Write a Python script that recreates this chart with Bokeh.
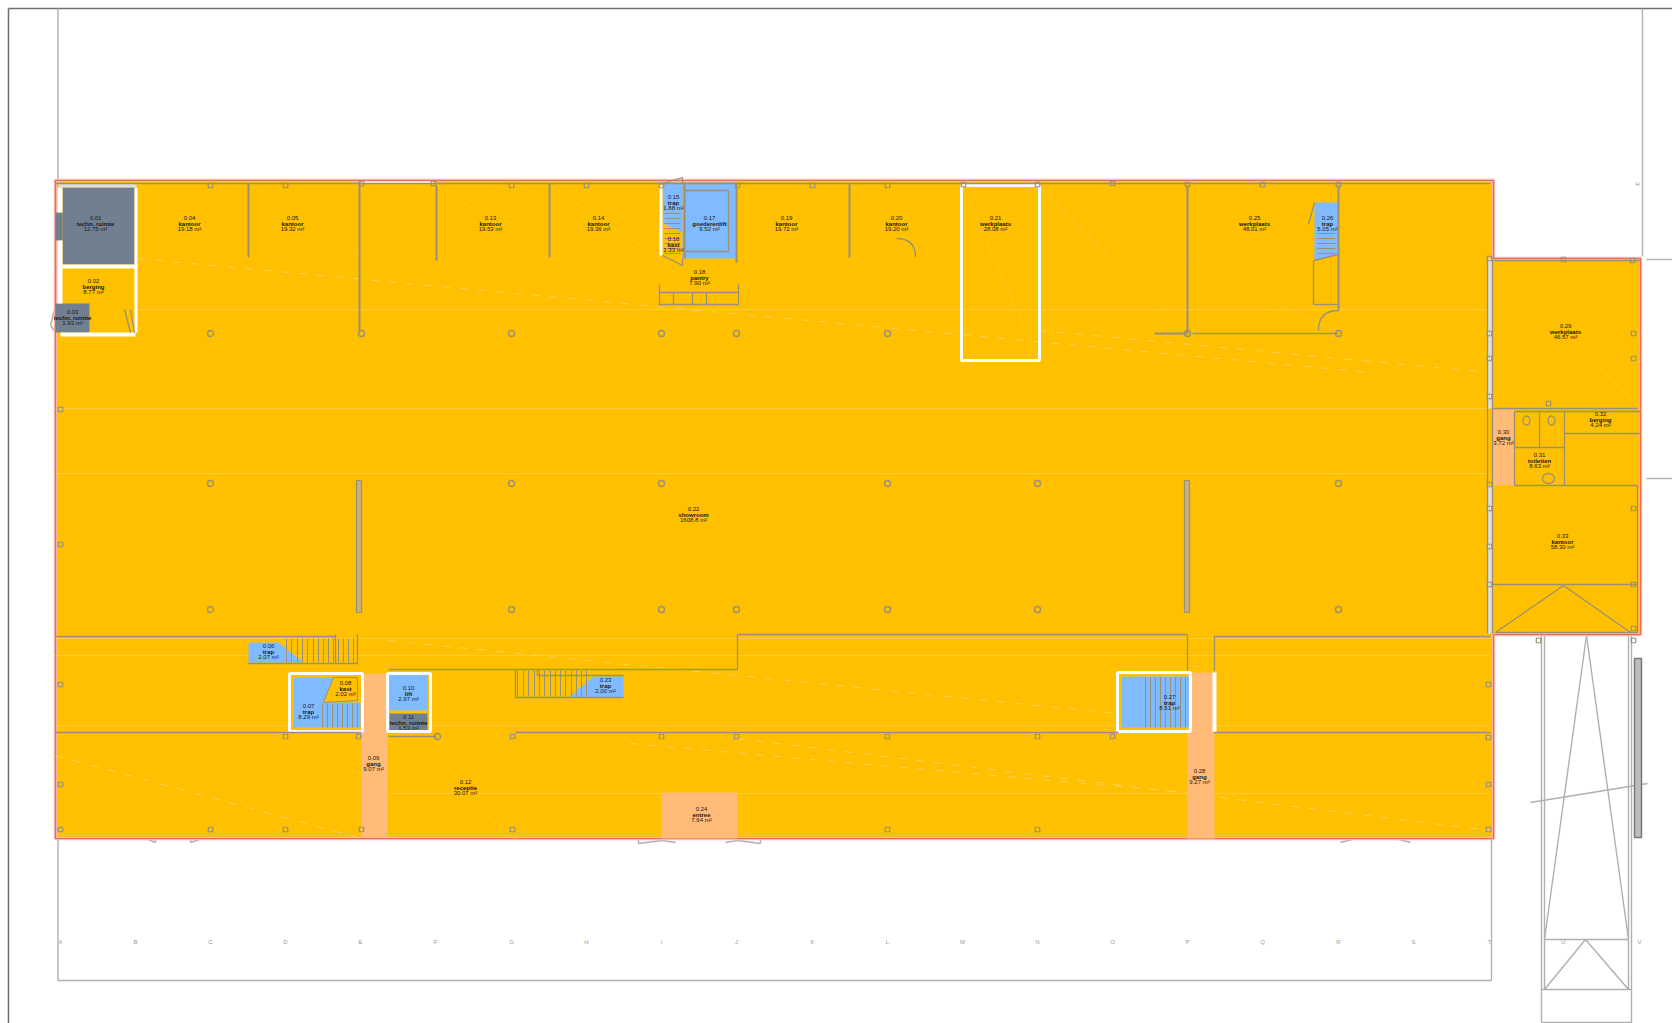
from bokeh.plotting import figure
from bokeh.models import Range1d, ColumnDataSource
from bokeh.core.properties import value
from bokeh.embed import file_html
from bokeh.resources import INLINE

# ---- room schedule (label data) ----
room_ids = ["0.01","0.02","0.03","0.04","0.05","0.06","0.07","0.08","0.09","0.10","0.11","0.12",
            "0.13","0.14","0.15","0.16","0.17","0.18","0.19","0.20","0.21","0.22","0.23","0.24",
            "0.25","0.26","0.27","0.28","0.29","0.30","0.31","0.32","0.33"]
room_names = ["techn. ruimte","berging","techn. ruimte","kantoor","kantoor","trap","trap","kast","gang","lift",
              "techn. ruimte","receptie","kantoor","kantoor","trap","kast","goederenlift","pantry","kantoor",
              "kantoor","werkplaats","showroom","trap","entree","werkplaats","trap","trap","gang","werkplaats",
              "gang","toiletten","berging","kantoor"]
room_areas = ["12.75 m²","8.77 m²","1.93 m²","19.18 m²","19.32 m²","2.07 m²","8.29 m²","2.02 m²","9.07 m²","2.97 m²",
              "1.53 m²","30.07 m²","19.53 m²","19.36 m²","1.88 m²","1.33 m²","9.52 m²","7.90 m²","19.72 m²",
              "19.20 m²","28.08 m²","1608.8 m²","2.00 m²","7.64 m²","48.01 m²","5.05 m²","8.51 m²","9.27 m²","46.57 m²",
              "3.72 m²","8.63 m²","4.24 m²","58.30 m²"]
label_x = [95,93,72,189,292,268,308,345,373,408,408,465,490,598,673,673,709,699,786,896,995,693,605,701,1254,1327,1169,1199,1565,1503,1539,1600,1562]
label_y = [223,286,317,223,223,651,711,688,763,693,722,787,223,223,202,244,223,277,223,223,223,514,685,814,223,223,702,776,331,437,460,419,541]

# ---- grid letters ----
grid_names = list("ABCDEFGHIJKLMNOPQRSTUV")
grid_x = [60,135,210,285,360,435,511,586,661,736,812,887,962,1037,1112,1187,1262,1338,1413,1489,1563,1639]
grid_y = [941]*22

# ---- floor outline ----
floor_x = [55,1493,1493,1640,1640,1493,1493,55]
floor_y = [180,180,258,258,634,634,838,838]

# ---- coloured rooms: left, right, top, bottom ----
grey_rooms = [(62,134,187,264),(55,89,303,332),(55,62,212,240),(389,427,713,731)]
orange_rooms = [(361,387,673,837),(661,737,792,838),(1187,1214,672,838),(1492,1514,409,485)]
blue_rooms = [(682,735,182,258),(389,427,674,710),(1121,1190,676,727)]
blue_polys_x = [[662,682,682,663],[248,278,303,248],[293,333,323,360,360,293],[568,593,623,623],[1314,1337,1337,1314]]
blue_polys_y = [[182,182,232,223],[642,642,662,662],[677,677,702,702,727,727],[697,676,676,697],[202,202,254,260]]
kast_x = [333,357,357,323]
kast_y = [677,677,700,702]
white_strips = [(57,62,187,212),(57,62,240,303),(62,137,264,268),(134,137,187,332),(60,135,332,336),
                (361,433,181,183),(659,662,185,255),(1212,1216,672,732)]
grey_strip = [(1487,1492,258,408),(1487,1492,485,633),(58,136,183,187)]
white_boxes = [(289,362,673,731),(387,430,673,731),(1117,1190,672,731),(961,1039,185,360)]

# ---- walls: x0, y0, x1, y1 ----
thick_walls = [(248,183,248,257),(359,183,359,330),(436,185,436,260),(549,183,549,257),(849,183,849,257),
               (736,183,736,262),(1187,185,1187,333),(1338,185,1338,310),(1154,333,1187,333),(684,182,684,258)]
thin_walls = [(55,183,1490,183),(1192,333,1338,333),(55,636,335,636),(335,634,335,663),(357,634,357,663),
              (247,663,357,663),(737,634,1187,634),(737,634,737,668),(388,669,737,669),(1187,634,1187,670),
              (1214,636,1214,670),(1214,636,1490,636),(515,669,515,697),(537,669,537,675),(537,675,623,675),
              (515,697,623,697),(55,732,361,732),(515,732,1118,732),(1213,732,1490,732),(388,736,436,736),
              (1492,408,1637,408),(1514,411,1640,411),(1514,411,1514,485),(1564,411,1564,485),(1539,412,1539,448),
              (1514,447,1564,447),(1564,433,1640,433),(1514,485,1637,485),(1492,584,1637,584),(1637,485,1637,632),
              (1495,632,1637,632),(1495,632,1563,585),(1563,585,1630,632),(1493,260,1640,260),
              (659,284,659,305),(738,284,738,305),(659,292,738,292),(659,304,738,304),(673,292,673,304),
              (692,292,692,304),(706,292,706,304),(1313,260,1313,304),(1313,304,1337,304),(1314,260,1337,254),
              (685,190,728,190),(728,190,728,251),(685,251,728,251),(1308,224,1314,202),
              (662,183,682,177),(682,177,682,182),(662,255,682,265),(682,258,682,265),
              (124,309,130,332),(130,309,134,332),(1487,258,1487,633),(1492,258,1492,633)]
partitions = [(356,361,480,612),(1184,1189,480,612)]

# ---- stair treads, x or y positions ----
tread_a = [286,291,297,302,307,313,318,323,328,333,338,343,348,353]
tread_b = [517,523,528,534,539,544,550,555,560,565,571,576,581,586]
tread_c = [1145,1150,1155,1160,1165,1170,1175,1180,1185]
tread_d = [322,327,332,337,342,347,352,357]
tread_e = [233,238,243,248,253]
tread_f = [213,218,223,228,233,238,243,248,253]

# ---- structural columns ----
round_x = [210,361,511,661,736,887,1187,1338,210,511,661,887,1037,1338,210,511,661,736,887,1037,1338,437]
round_y = [333,333,333,333,333,333,333,333,483,483,483,483,483,483,609,609,609,609,609,609,609,736]
square_x = [210,285,361,433,511,586,661,737,812,887,963,1037,1112,1187,1262,1338,1563,1632,1633,1633,1633,1633,1633,
            60,60,60,60,285,358,512,661,736,887,1037,1112,1488,1488,1488,1488,210,285,361,512,887,1037,1538,1633,60,
            1489,1489,1489,1489,1489,1489,1489,1489,1548]
square_y = [185,185,183,183,185,185,185,185,185,185,184,184,183,184,184,184,259,260,333,358,508,584,628,
            409,544,684,784,736,736,736,736,736,736,736,736,684,737,784,829,829,829,829,829,829,829,640,640,829,
            258,333,358,396,484,508,546,584,403]

# ---- faint drawing artefacts on the floor ----
streak_h = [(137,309,1490),(55,408,1490),(55,473,1490),(55,638,1490),(55,655,1490),(390,793,1490),(55,725,1490)]
streak_d = [(137,183,248,257),(248,183,359,257),(437,185,549,258),(549,185,660,258),(737,185,849,258),(849,185,961,258),
            (961,185,1039,360),(1039,185,1187,333),(1187,260,1338,333),(1492,258,1640,408),(1492,485,1637,632),(388,738,515,838),(1037,185,1112,260)]
streak_dash = [(137,258,1370,372),(630,743,1187,792),(55,755,361,838),(388,640,1187,720),(737,738,1490,830),(1039,330,1490,372)]

# ---- site lines outside the building ----
page_border = [(8,8,1672,8),(8,8,8,1023)]
site_lines = [(57.5,8,57.5,180),(57.5,838,57.5,980),(57.5,980,1491,980),(1491,838,1491,980),
              (1642,8,1642,256),(1646,259,1672,259),(1646,478,1672,478),
              (1541,634,1541,1022),(1544,634,1544,989),(1628,634,1628,989),(1631,634,1631,1022),(1544,939,1628,939),
              (1586,635,1544,939),(1586,635,1628,939),(1585,939,1544,989),(1585,939,1628,989),(1541,989,1631,989),(1541,1022,1631,1022),
              (1530,802,1647,783),
              (138,835,155,842),(155,842,155,838),(190,842,208,836),(190,842,190,838),
              (638,843,662,840),(638,843,638,838),(737,840,760,843),(760,843,760,838),(662,840,675,842),(725,842,737,840),
              (1340,842,1355,838),(1395,838,1410,842),(50,325,55,305),(50,325,55,332)]
rail = (1634,1641,658,837)

p = figure(width=1672, height=1023, output_backend="svg", toolbar_location=None,
           x_range=Range1d(0, 1672), y_range=Range1d(1023, 0), min_border=0)
p.axis.visible = False
p.grid.visible = False
p.outline_line_color = None
p.background_fill_color = "white"
p.border_fill_color = "white"

def quads(rows, **kw):
    l, r, t, b = zip(*rows)
    p.quad(left=list(l), right=list(r), top=list(t), bottom=list(b), **kw)

def segs(rows, **kw):
    a, b, c, d = zip(*rows)
    p.segment(x0=list(a), y0=list(b), x1=list(c), y1=list(d), **kw)

SITE = "#b0b0b0"
WALL = "#9a9078"

segs(page_border, line_color="#6e6e6e", line_width=1.5)
segs(site_lines, line_color=SITE, line_width=1.4)
p.patch(floor_x, floor_y, fill_color="#FFC000", line_color="#F9B9AE", line_width=3.5)
p.patch(floor_x, floor_y, fill_color=None, line_color="#EE6A55", line_width=1.2)

segs([(a, y, b, y) for a, y, b in streak_h], line_color="#FFCB3E", line_width=1)
segs(streak_d, line_color="#FFC623", line_width=1)
segs(streak_dash, line_color="#FFD25A", line_width=1, line_dash="8 10")

quads(grey_rooms, fill_color="#708090", line_color=None)
quads(orange_rooms, fill_color="#FFBB77", line_color=None)
quads(blue_rooms, fill_color="#80BAFF", line_color=None)
p.patches(blue_polys_x, blue_polys_y, fill_color="#80BAFF", line_color=None)
quads(white_strips, fill_color="white", line_color=None)
quads(grey_strip, fill_color="#DEDEDE", line_color=None)
quads(white_boxes, fill_color=None, line_color="white", line_width=3)
p.patch(kast_x, kast_y, fill_color="#FFC000", line_color=WALL, line_width=1)
quads([rail], fill_color="#bdbdbd", line_color="#777777", line_width=1.5)
quads(partitions, fill_color="#C9B27A", line_color=WALL, line_width=1.2)

segs(thick_walls, line_color=WALL, line_width=2)
segs(thin_walls, line_color=WALL, line_width=1.3)
for tx, y0, y1 in ((tread_a, 638, 662), (tread_b, 670, 696), (tread_c, 677, 727)):
    p.segment(x0=tx, y0=[y0]*len(tx), x1=tx, y1=[y1]*len(tx), line_color=WALL, line_width=1)
p.segment(x0=tread_d, y0=[703]*len(tread_d), x1=tread_d, y1=[727]*len(tread_d), line_color=WALL, line_width=1)
p.segment(x0=[1317]*len(tread_e), y0=tread_e, x1=[1335]*len(tread_e), y1=tread_e, line_color=WALL, line_width=1)
p.segment(x0=[664]*len(tread_f), y0=tread_f, x1=[680]*len(tread_f), y1=tread_f, line_color=WALL, line_width=1)

p.quadratic(x0=[896,1338], y0=[238,310], x1=[915,1318], y1=[257,330], cx=[915,1318], cy=[238,310],
            line_color=WALL, line_width=1.3)
p.ellipse(x=[1526,1551,1548], y=[420,420,478], width=[7,7,12], height=[9,9,10],
          fill_color=None, line_color=WALL, line_width=1.3)

p.scatter(round_x, round_y, marker="circle", size=6, fill_color=None, line_color=WALL, line_width=1.4)
p.scatter(square_x, square_y, marker="square", size=4.5, fill_color=None, line_color=WALL, line_width=1.2)

p.text(x=grid_x, y=grid_y, text=grid_names, text_font=value("Liberation Sans"), text_font_size="6px",
       text_color="#999999", text_align="center", text_baseline="middle")
p.text(x=[1637], y=[183], text=["H"], text_font=value("Liberation Sans"), text_font_size="6px",
       text_color="#999999", text_align="center", text_baseline="middle")

src = ColumnDataSource(dict(x=label_x, y=label_y, rid=room_ids, name=room_names, area=room_areas))
for col, dy, weight in (("rid", -5.7, "normal"), ("name", 0, "bold"), ("area", 5.7, "normal")):
    p.text(x="x", y="y", text=col, source=src, y_offset=dy, text_font=value("Liberation Sans"),
           text_font_size="6px", text_font_style=weight, text_color="#1a1a1a",
           text_align="center", text_baseline="middle")

open("out.html", "w").write(file_html(p, INLINE))
